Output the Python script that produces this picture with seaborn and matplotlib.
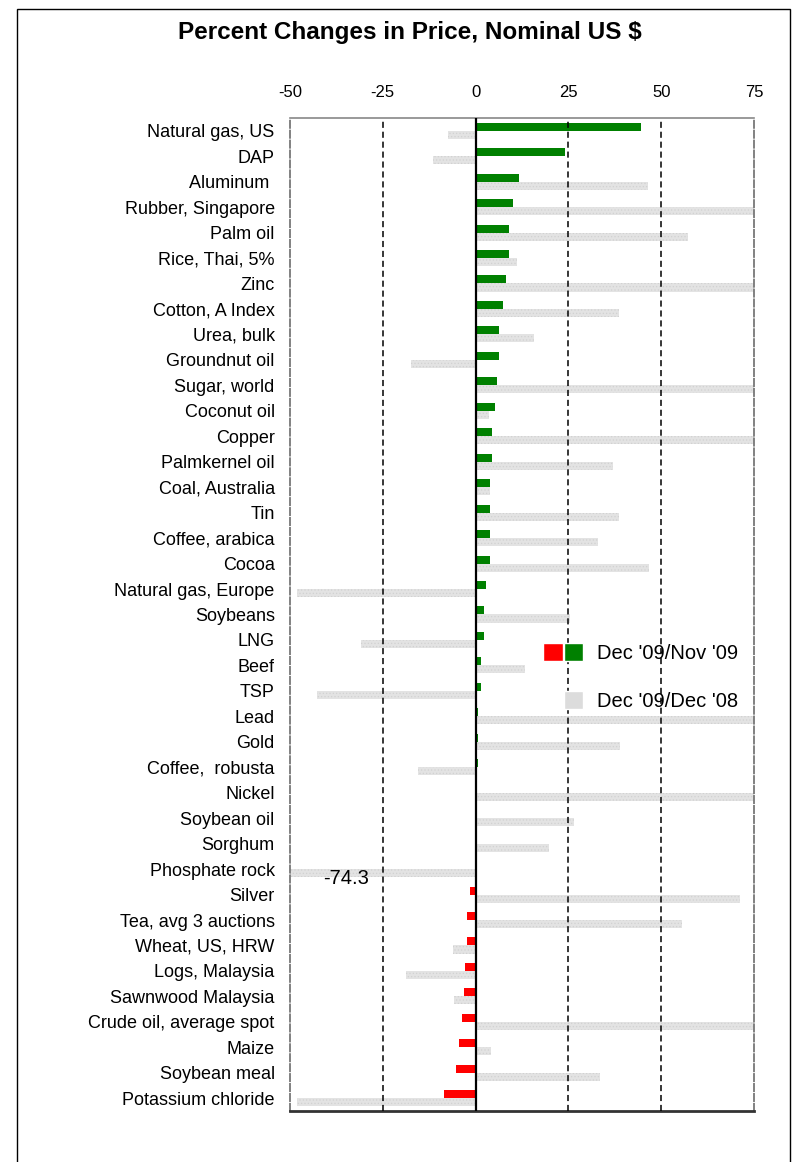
import pandas as pd
import matplotlib
matplotlib.use('Agg')
import matplotlib.pyplot as plt
import seaborn as sns
from matplotlib.patches import Patch, Rectangle
from matplotlib.legend_handler import HandlerTuple

# ==============================
# Data (percent change, nominal US $)
# ==============================
commodities = [
    'Natural gas, US', 'DAP', 'Aluminum ', 'Rubber, Singapore', 'Palm oil',
    'Rice, Thai, 5%', 'Zinc', 'Cotton, A Index', 'Urea, bulk', 'Groundnut oil',
    'Sugar, world', 'Coconut oil', 'Copper', 'Palmkernel oil', 'Coal, Australia',
    'Tin', 'Coffee, arabica', 'Cocoa', 'Natural gas, Europe', 'Soybeans',
    'LNG', 'Beef', 'TSP', 'Lead', 'Gold',
    'Coffee,  robusta', 'Nickel', 'Soybean oil', 'Sorghum', 'Phosphate rock',
    'Silver', 'Tea, avg 3 auctions', 'Wheat, US, HRW', 'Logs, Malaysia',
    'Sawnwood Malaysia', 'Crude oil, average spot', 'Maize', 'Soybean meal',
    'Potassium chloride',
]
month_change = [
    44.5, 24.2, 11.8, 10.2, 9.0,
    9.0, 8.1, 7.3, 6.4, 6.4,
    5.7, 5.2, 4.3, 4.3, 4.0,
    4.0, 4.0, 4.0, 2.7, 2.3,
    2.3, 1.5, 1.5, 0.7, 0.6,
    0.6, 0.2, 0.1, -0.2, 0.0,
    -1.5, -2.3, -2.3, -2.8, -3.1,
    -3.6, -4.4, -5.2, -8.5,
]
year_change = [
    -7.4, -11.6, 46.5, 80.0, 57.2,
    11.2, 95.0, 38.5, 15.8, -17.3,
    100.0, 3.7, 130.0, 36.9, 4.0,
    38.5, 33.1, 46.7, -48.0, 25.3,
    -31.0, 13.3, -42.7, 140.0, 39.0,
    -15.4, 77.0, 26.6, 19.9, -74.3,
    71.3, 55.5, -6.2, -18.7, -5.8,
    90.0, 4.2, 33.6, -48.0,
]
periods = ["Dec '09/Nov '09", "Dec '09/Dec '08"]
x_ticks = [-50, -25, 0, 25, 50, 75]

n = len(commodities)
data = pd.DataFrame({
    'commodity': commodities * 2,
    'period': [periods[0]] * n + [periods[1]] * n,
    'change': month_change + year_change,
})

sns.set_style('white')
plt.rcParams['font.family'] = ['Liberation Sans', 'DejaVu Sans']
plt.rcParams['text.color'] = 'black'
plt.rcParams['xtick.labelcolor'] = 'black'
plt.rcParams['ytick.labelcolor'] = 'black'
plt.rcParams['hatch.linewidth'] = 0.5

fig = plt.figure(figsize=(8.01, 11.62), dpi=100)
ax = fig.add_axes([290 / 801, 1 - 1111 / 1162, 464 / 801, 993 / 1162])

sns.barplot(data=data, y='commodity', x='change', hue='period', orient='h',
            palette=['green', '#e3e3e3'], width=0.63, saturation=1,
            legend=False, ax=ax)

# monthly change: red when negative
for bar in ax.containers[0]:
    bar.set_linewidth(0)
    if bar.get_width() < 0:
        bar.set_facecolor('red')
# yearly change: light dotted gray
for bar in ax.containers[1]:
    bar.set_hatch('.....')
    bar.set_edgecolor('#d2d2d2')
    bar.set_linewidth(0)

ax.set_xlim(-50, 75)
ax.set_ylim(n - 0.5, -0.5)
ax.set_xlabel('')
ax.set_ylabel('')
ax.xaxis.tick_top()
ax.set_xticks(x_ticks)
ax.set_xticklabels([str(t) for t in x_ticks])
ax.tick_params(axis='x', length=0, pad=13, labelsize=12)
ax.tick_params(axis='y', length=0, pad=11, labelsize=13)

for v in [-25, 25, 50]:
    ax.axvline(v, color='black', lw=1.1, ls=(0, (4, 2.5)), zorder=3)
ax.axvline(0, color='black', lw=1.6, zorder=3)

for side in ['left', 'right']:
    ax.spines[side].set_color('#777777')
    ax.spines[side].set_linestyle((0, (4, 1.5)))
    ax.spines[side].set_linewidth(1.3)
ax.spines['top'].set_color('#888888')
ax.spines['top'].set_linewidth(1.2)
ax.spines['bottom'].set_color('#333333')
ax.spines['bottom'].set_linewidth(2)

# out-of-range value
ax.text(-35, commodities.index('Phosphate rock') + 0.35, '-74.3',
        ha='center', va='center', fontsize=14.5)

# legend
handles = [
    (Patch(facecolor='red'), Patch(facecolor='green')),
    (Patch(facecolor='none', edgecolor='none'), Patch(facecolor='#dcdcdc')),
]
ax.legend(handles, periods, handler_map={tuple: HandlerTuple(ndivide=None, pad=0.05)},
          loc='upper left', bbox_to_anchor=(543 / 801, 1 - 643 / 1162),
          bbox_transform=fig.transFigure, frameon=False, fontsize=14.5,
          handlelength=2.0, handleheight=1.0, handletextpad=0.7,
          labelspacing=1.4, borderpad=0, borderaxespad=0)

fig.text(410 / 801, 1 - 33 / 1162, 'Percent Changes in Price, Nominal US $',
         ha='center', va='center', fontsize=17.5, fontweight='bold')

fig.patches.append(Rectangle((17 / 801, -0.05), (790 - 17) / 801, 1 - 9 / 1162 + 0.05,
                             transform=fig.transFigure, fill=False,
                             edgecolor='black', linewidth=1))

fig.savefig('out.png', dpi=100)
